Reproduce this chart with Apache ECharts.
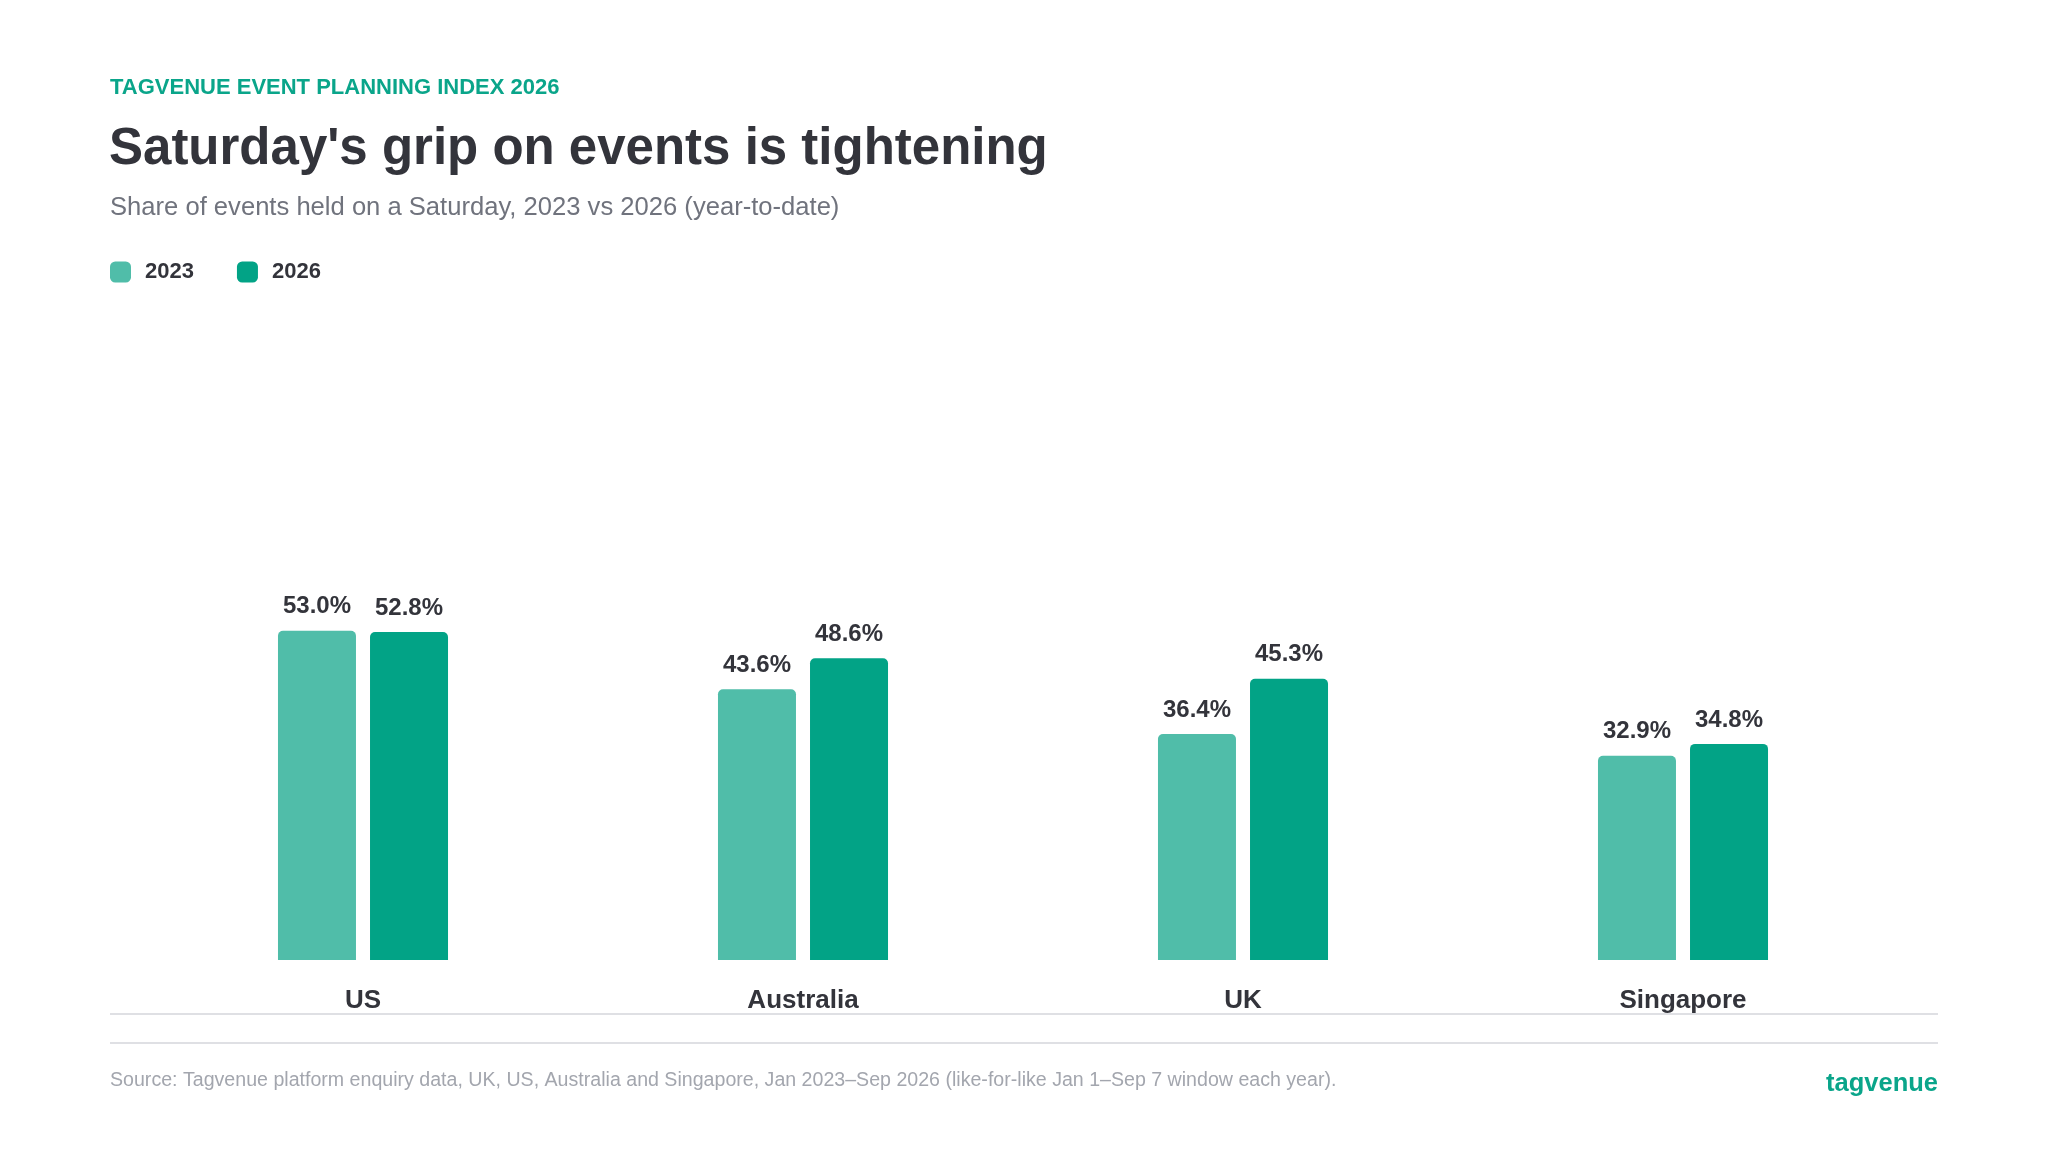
<!DOCTYPE html>
<html>
<head>
<meta charset="utf-8">
<script src="https://cdn.jsdelivr.net/npm/echarts@6/dist/echarts.min.js"></script>
<style>
  html, body { margin: 0; padding: 0; background: #ffffff; }
  #chart { width: 2048px; height: 1152px; }
</style>
</head>
<body>
<div id="chart"></div>
<script>
// data
var categories = ['US', 'Australia', 'UK', 'Singapore'];
var seriesNames = ['2023', '2026'];
var values2023 = [53.0, 43.6, 36.4, 32.9];
var values2026 = [52.8, 48.6, 45.3, 34.8];

var kicker = 'TAGVENUE EVENT PLANNING INDEX 2026';
var titleText = "Saturday's grip on events is tightening";
var subtitleText = 'Share of events held on a Saturday, 2023 vs 2026 (year-to-date)';
var sourceText = 'Source: Tagvenue platform enquiry data, UK, US, Australia and Singapore, Jan 2023\u2013Sep 2026 (like-for-like Jan 1\u2013Sep 7 window each year).';
var brandText = 'tagvenue';

var FONT = '"Liberation Sans", Arial, Helvetica, sans-serif';
var light = '#50bda9';
var dark = '#02a386';
var ink = '#33343b';

var dom = document.getElementById('chart');
var myChart = echarts.init(dom);

function valueLabel() {
    return {
        show: true,
        position: 'top',
        distance: 12,
        color: ink,
        fontFamily: FONT,
        fontWeight: 'bold',
        fontSize: 24,
        formatter: function (p) { return p.value.toFixed(1) + '%'; }
    };
}

var option = {
    backgroundColor: '#ffffff',
    animation: false,
    textStyle: { fontFamily: FONT },
    legend: {
        left: 110,
        top: 261,
        padding: 0,
        icon: 'roundRect',
        itemWidth: 21,
        itemHeight: 21,
        itemGap: 43,
        textStyle: {
            color: ink,
            fontFamily: FONT,
            fontWeight: 'bold',
            fontSize: 22,
            padding: [0, 0, 0, 9]
        },
        data: seriesNames
    },
    grid: {
        left: 143,
        right: 145,
        top: 339,
        bottom: 192,
        containLabel: false
    },
    xAxis: {
        type: 'category',
        data: categories,
        axisLine: { show: false },
        axisTick: { show: false },
        axisLabel: {
            margin: 28,
            color: ink,
            fontFamily: FONT,
            fontWeight: 'bold',
            fontSize: 26
        }
    },
    yAxis: {
        type: 'value',
        min: 0,
        max: 100,
        show: false,
        splitLine: { show: false }
    },
    series: [
        {
            name: seriesNames[0],
            type: 'bar',
            data: values2023,
            barWidth: 78,
            barGap: '18%',
            itemStyle: { color: light, borderRadius: [5, 5, 0, 0] },
            label: valueLabel()
        },
        {
            name: seriesNames[1],
            type: 'bar',
            data: values2026,
            barWidth: 78,
            barGap: '18%',
            itemStyle: { color: dark, borderRadius: [5, 5, 0, 0] },
            label: valueLabel()
        }
    ],
    graphic: [
        {
            type: 'text', left: 110, top: 77,
            style: { text: kicker, fill: '#0aa58a', font: 'bold 22px ' + FONT }
        },
        {
            type: 'text', left: 109, top: 124,
            style: { text: titleText, fill: ink, font: 'bold 51px ' + FONT }
        },
        {
            type: 'text', left: 110, top: 195,
            style: { text: subtitleText, fill: '#70737d', font: '25.6px ' + FONT }
        },
        {
            type: 'line',
            shape: { x1: 110, y1: 1014, x2: 1938, y2: 1014 },
            style: { stroke: '#dfe0e4', lineWidth: 2 }
        },
        {
            type: 'line',
            shape: { x1: 110, y1: 1043, x2: 1938, y2: 1043 },
            style: { stroke: '#dfe0e4', lineWidth: 2 }
        },
        {
            type: 'text', left: 110, top: 1071,
            style: { text: sourceText, fill: '#a3a6ae', font: '19.6px ' + FONT }
        },
        {
            type: 'text', right: 110, top: 1071,
            style: { text: brandText, fill: '#0aa58a', font: 'bold 25.5px ' + FONT }
        }
    ]
};

myChart.setOption(option);
</script>
</body>
</html>
